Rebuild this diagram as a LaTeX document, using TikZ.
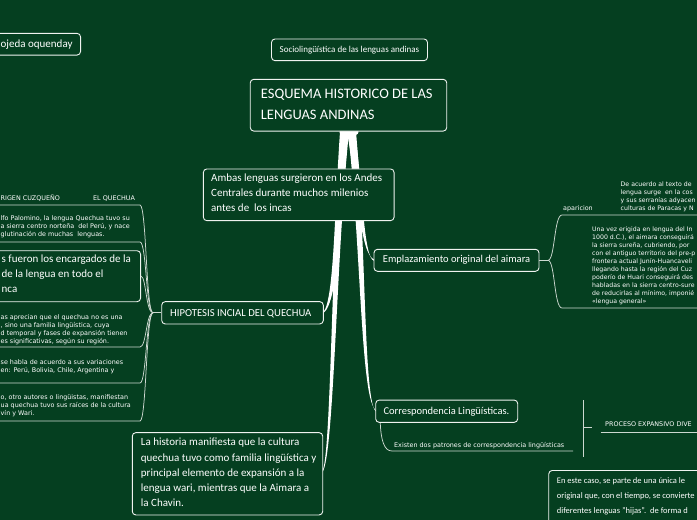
\documentclass[tikz,border=0pt]{standalone}
\usepackage{fontspec}
\setmainfont{Carlito}
\newfontfamily\smallfont{DejaVu Sans}
\definecolor{bgc}{RGB}{5,63,32}
\definecolor{linec}{RGB}{205,216,208}
\definecolor{boxc}{RGB}{240,243,240}
\begin{document}
\begin{tikzpicture}[x=1pt,y=-1pt,
  boxn/.style={draw=boxc, line width=0.9pt, rounded corners=3.5pt, fill=bgc, inner sep=0pt},
  txt/.style={inner sep=0pt, text=white, align=left, anchor=north west},
  sm/.style={txt, font=\smallfont\fontsize{6.4}{8}\selectfont},
  smr/.style={txt, font=\smallfont\fontsize{6.2}{8}\selectfont},
  conn/.style={draw=linec, line width=0.75pt},
  trunk/.style={fill=white}]
\useasboundingbox (0,0) rectangle (697,520);
\fill[bgc] (0,0) rectangle (697,520);

% ---------- central tapered branches ----------
\fill[trunk] (340,132) .. controls (334.5,210) and (334,300) .. (323.5,311.8)
  -- (323.5,313) .. controls (338.5,302) and (342,210) .. (348,132) -- cycle;
\fill[trunk] (341,132) .. controls (331.5,250) and (331,455) .. (322.5,470.5)
  -- (322.5,472) .. controls (334,456) and (336.5,250) .. (349,132) -- cycle;
\fill[trunk] (347,132) .. controls (357.5,190) and (360.5,254) .. (374,259.5)
  -- (374,260.8) .. controls (363.5,258) and (363,190) .. (355,132) -- cycle;
\fill[trunk] (348,132) .. controls (361.5,250) and (360.5,404) .. (376.5,410.5)
  -- (376.5,411.8) .. controls (363.5,407) and (366.5,250) .. (356,132) -- cycle;
\fill[trunk] (349,132) ellipse [x radius=9.5, y radius=4.5];

% ---------- boxes ----------
\node[boxn, minimum width=110, minimum height=21.7, anchor=east] (ojeda) at (81,44.2) {};
\node[boxn, minimum width=156, minimum height=21.7] (socio) at (349.5,49.8) {};
\node[boxn, minimum width=196.5, minimum height=51.7] (title) at (348.5,105.2) {};
\node[boxn, minimum width=190.7, minimum height=51.7] (ambas) at (298.7,194.8) {};
\node[boxn, minimum width=165, minimum height=22] (emp) at (456.5,260.3) {};
\node[boxn, minimum width=161.6, minimum height=22.3] (hip) at (242.5,312.8) {};
\node[boxn, minimum width=142, minimum height=22.3] (corr) at (446.7,411.2) {};
\node[boxn, minimum width=190.4, minimum height=82.3] (hist) at (227.5,473.8) {};
\node[boxn, minimum width=170, minimum height=51, anchor=east] (fueron) at (141,276.2) {};
\node[boxn, minimum width=200, minimum height=80, anchor=north west] (caso) at (548.3,470) {};

% ---------- left connectors (HIPOTESIS) ----------
\coordinate (hj) at (153,312.8);
\coordinate (u0) at (-6,205);   \coordinate (u0e) at (140,205);
\coordinate (u1) at (-6,242);   \coordinate (u1e) at (140,242);
\coordinate (u2) at (-6,347);   \coordinate (u2e) at (140,347);
\coordinate (u3) at (-6,383);   \coordinate (u3e) at (140,383);
\coordinate (u4) at (-6,421);   \coordinate (u4e) at (140,421);
\draw[conn] (hip.west) -- (hj);
\draw[conn] (hj) .. controls (146,312.8) and (146.5,205) .. (u0e) -- (u0);
\draw[conn] (hj) .. controls (146,312.8) and (146.5,242) .. (u1e) -- (u1);
\draw[conn] (hj) .. controls (146,312.8) and (146,276.2) .. (fueron.east);
\draw[conn] (hj) .. controls (146,312.8) and (146.5,347) .. (u2e) -- (u2);
\draw[conn] (hj) .. controls (146,312.8) and (146.5,383) .. (u3e) -- (u3);
\draw[conn] (hj) .. controls (146,312.8) and (146.5,421) .. (u4e) -- (u4);

% ---------- right connectors (aimara) ----------
\coordinate (bj) at (548,260.3);
\coordinate (r1) at (702,215);
\coordinate (r2) at (702,308);
\draw[conn] (emp.east) -- (bj);
\draw[conn] (bj) .. controls (555,260.3) and (554,215) .. (562,215) -- (r1);
\draw[conn] (bj) .. controls (555,260.3) and (554,308) .. (562,308) -- (r2);

% ---------- correspondencia connectors ----------
\coordinate (cx1) at (392,451);
\coordinate (cx2) at (573,451);
\coordinate (v1) at (583.5,400);
\coordinate (v2) at (583.5,457);
\coordinate (t1) at (583.5,427);
\coordinate (t2) at (592,427);
\coordinate (p1) at (600.5,432);
\coordinate (p2) at (702,432);
\draw[conn] ([xshift=5pt]corr.south west) .. controls (381,440) and (384,451) .. (cx1) -- (cx2);
\draw[conn] (v1) -- (v2);
\draw[conn] (t1) -- (t2);
\draw[conn] (p1) -- (p2);

% ---------- box texts ----------
\node[txt, anchor=base west, font=\fontsize{11}{14}\selectfont] (ojedat) at (0.5,47) {ojeda oquenday};
\node[txt, anchor=base west, font=\fontsize{9}{11}\selectfont] (sociot) at (279.5,52.7) {Sociolingüística de las lenguas andinas};
\node[txt, font=\fontsize{14.5}{21}\selectfont] (titlet) at (260.7,83.3) {\strut ESQUEMA HISTORICO DE LAS\\LENGUAS ANDINAS};
\node[txt, font=\fontsize{11}{14.8}\selectfont] (ambast) at (211,171.1) {\strut Ambas lenguas surgieron en los Andes\\Centrales durante muchos milenios\\antes de\ \ los incas};
\node[txt, anchor=base west, font=\fontsize{10.5}{13}\selectfont] (empt) at (382.7,262.6) {Emplazamiento original del aimara};
\node[txt, anchor=base west, font=\fontsize{10.7}{13}\selectfont] (hipt) at (170,316.2) {HIPOTESIS INCIAL DEL QUECHUA};
\node[txt, anchor=base west, font=\fontsize{10.5}{13}\selectfont] (corrt) at (383.3,414.2) {Correspondencia Lingüísticas.};
\node[txt, font=\fontsize{11}{15.3}\selectfont] (histt) at (140.7,434.8) {\strut La historia manifiesta que la cultura\\quechua tuvo como familia lingüística y\\principal elemento de expansión a la\\lengua wari, mientras que la Aimara a\\la Chavin.};
\node[txt, font=\fontsize{11}{15}\selectfont] (fueront) at (1.5,252) {\strut s fueron los encargados de la\\de la lengua en todo el\\nca};
\node[txt, font=\fontsize{8.5}{15}\selectfont] (casot) at (556.7,473) {\strut En este caso, se parte de una única le\\original que, con el tiempo, se convierte\\diferentes lenguas "hijas".\ \ de forma d};

% ---------- small texts ----------
\node[sm] (origen) at (0.5,194.4) {\strut RIGEN CUZQUEÑO};
\node[sm] (quechua) at (93,194.4) {\strut EL QUECHUA};
\node[sm] (palom) at (0.5,214.4) {\strut lfo Palomino, la lengua Quechua tuvo su\\a sierra centro norteña\ \ del Perú, y nace\\glutinación de muchas\ \ lenguas.};
\node[sm] (aprec) at (0.5,313.4) {\strut as aprecian que el quechua no es una\\, sino una familia lingüística, cuya\\d temporal y fases de expansión tienen\\es significativas, según su región.};
\node[sm] (habla) at (0.5,358.4) {\strut se habla de acuerdo a sus variaciones\\en: Perú, Bolivia, Chile, Argentina y};
\node[sm] (otros) at (0.5,393.4) {\strut o, otro autores o lingüistas, manifiestan\\ua quechua tuvo sus raíces de la cultura\\vín y Wari.};
\node[smr] (acuerdo) at (620.5,180.4) {\strut De acuerdo al texto de\\lengua surge\ \ en la cos\\y sus serranías adyacen\\culturas de Paracas y N};
\node[sm] (aparic) at (563,204.4) {\strut aparicion};
\node[smr] (unavez) at (592,225.4) {\strut Una vez erigida en lengua del In\\1000 d.C.), el aimara conseguirá\\la sierra sureña, cubriendo, por\\con el antiguo territorio del pre-p\\frontera actual Junín-Huancaveli\\llegando hasta la región del Cuz\\poderío de Huari conseguirá des\\habladas en la sierra centro-sure\\de reducirlas al mínimo, imponié\\«lengua general»};
\node[sm] (existen) at (394,441.4) {\strut Existen dos patrones de correspondencia lingüísticas};
\node[sm] (proceso) at (605,420.4) {\strut PROCESO EXPANSIVO DIVE};
\end{tikzpicture}
\end{document}
